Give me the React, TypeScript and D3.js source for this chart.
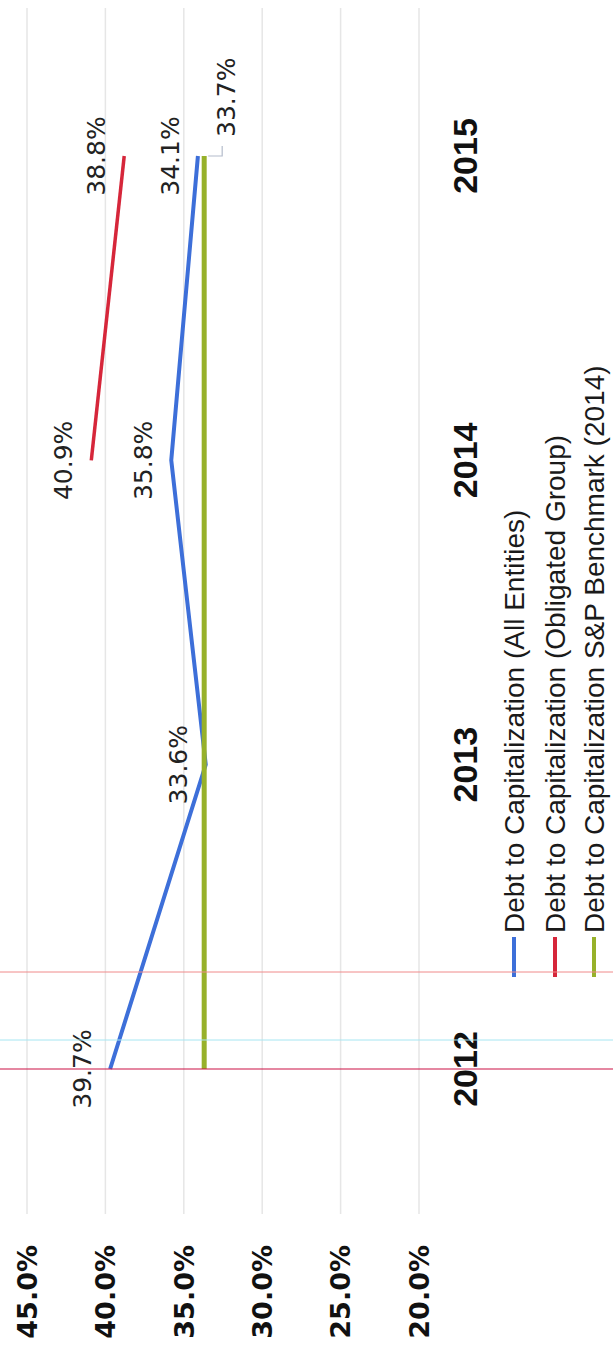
import React from "react";
import * as d3 from "d3";

// Fiscal years shown along the category axis
const years = ["2012", "2013", "2014", "2015"];

// Debt to capitalization ratios, in percent
const allEntities = [39.7, 33.6, 35.8, 34.1];
const obligatedGroup: (number | null)[] = [null, null, 40.9, 38.8];
const spBenchmark = [33.7, 33.7, 33.7, 33.7];

// Value axis ticks, in percent
const valueTicks = [45, 40, 35, 30, 25, 20];

const seriesNames = [
  "Debt to Capitalization (All Entities)",
  "Debt to Capitalization (Obligated Group)",
  "Debt to Capitalization S&P Benchmark (2014)",
];
const seriesColors = ["#3d6fd9", "#d6263a", "#97b12a"];

const W = 613;
const H = 1347;

export default function App() {
  // The chart is laid out landscape (H wide, W tall) and turned a quarter turn.
  const x = d3.scalePoint<string>().domain(years).range([278, 1191]);
  const y = d3.scaleLinear().domain([20, 45]).range([419, 27]);
  const plotLeft = 133;
  const plotRight = 1339;

  const fmt = (v: number) => `${v.toFixed(1)}%`;

  const line = d3
    .line<[string, number | null]>()
    .defined((d) => d[1] !== null)
    .x((d) => x(d[0]) as number)
    .y((d) => y(d[1] as number));

  const zip = (vals: (number | null)[]) =>
    years.map((yr, i) => [yr, vals[i]] as [string, number | null]);

  const labelFont = "'DejaVu Sans', Verdana, sans-serif";

  const lastX = x(years[3]) as number;
  const benchY = y(spBenchmark[3]);

  return (
    <svg
      width={W}
      height={H}
      style={{ position: "absolute", left: 0, top: 0, background: "#fff" }}
    >
      <rect width={W} height={H} fill="#fff" />
      <g transform={`translate(0,${H}) rotate(-90)`}>
        {/* gridlines */}
        {valueTicks.map((t) => (
          <line
            key={`g${t}`}
            x1={plotLeft}
            x2={plotRight}
            y1={y(t)}
            y2={y(t)}
            stroke="#e6e6e6"
            strokeWidth={1.5}
          />
        ))}
        {/* value axis labels */}
        {valueTicks.map((t) => (
          <text
            key={`t${t}`}
            x={102}
            y={y(t)}
            dy="0.36em"
            textAnchor="end"
            fontFamily={labelFont}
            fontWeight="bold"
            fontSize={27}
            fill="#111"
          >
            {fmt(t)}
          </text>
        ))}
        {/* category labels */}
        {years.map((yr) => (
          <text
            key={`c${yr}`}
            x={x(yr)}
            y={477}
            textAnchor="middle"
            fontFamily="'Liberation Sans', Arial, sans-serif"
            fontWeight="bold"
            fontSize={34}
            fill="#111"
          >
            {yr}
          </text>
        ))}

        {/* series lines */}
        <path
          d={line(zip(allEntities)) || ""}
          fill="none"
          stroke={seriesColors[0]}
          strokeWidth={4}
        />
        <path
          d={line(zip(obligatedGroup)) || ""}
          fill="none"
          stroke={seriesColors[1]}
          strokeWidth={3.5}
        />
        <path
          d={line(zip(spBenchmark)) || ""}
          fill="none"
          stroke={seriesColors[2]}
          strokeWidth={5}
        />

        {/* data labels */}
        {allEntities.map((v, i) => (
          <text
            key={`a${i}`}
            x={x(years[i])}
            y={y(v) - 19}
            textAnchor="middle"
            fontFamily={labelFont}
            fontSize={25}
            fill="#222"
          >
            {fmt(v)}
          </text>
        ))}
        {obligatedGroup.map((v, i) =>
          v === null ? null : (
            <text
              key={`o${i}`}
              x={x(years[i])}
              y={y(v) - 19}
              textAnchor="middle"
              fontFamily={labelFont}
              fontSize={25}
              fill="#222"
            >
              {fmt(v)}
            </text>
          )
        )}
        {/* benchmark label sits below its end point with a short leader */}
        <polyline
          points={`${lastX},${benchY + 4} ${lastX},${benchY + 18} ${lastX + 10},${benchY + 18}`}
          fill="none"
          stroke="#b4bccb"
          strokeWidth={1.2}
        />
        <text
          x={lastX + 19}
          y={benchY + 31}
          fontFamily={labelFont}
          fontSize={25}
          fill="#222"
        >
          {fmt(spBenchmark[3])}
        </text>

        {/* legend */}
        {seriesNames.map((name, i) => {
          const rowY = [514, 555, 594][i];
          return (
            <g key={`l${i}`}>
              <line
                x1={370}
                x2={410}
                y1={rowY}
                y2={rowY}
                stroke={seriesColors[i]}
                strokeWidth={4}
              />
              <text
                x={414}
                y={rowY + 10}
                fontFamily="'Liberation Sans', Arial, sans-serif"
                fontSize={28}
                fill="#1a1a1a"
              >
                {name}
              </text>
            </g>
          );
        })}
      </g>

      {/* thin marker rules across the page */}
      <line x1={0} x2={W} y1={972} y2={972} stroke="#f08a8a" strokeWidth={1} />
      <line x1={0} x2={W} y1={1040} y2={1040} stroke="#a6e6f2" strokeWidth={1} />
      <line x1={0} x2={W} y1={1069} y2={1069} stroke="#cc1144" strokeWidth={1.2} />
    </svg>
  );
}
